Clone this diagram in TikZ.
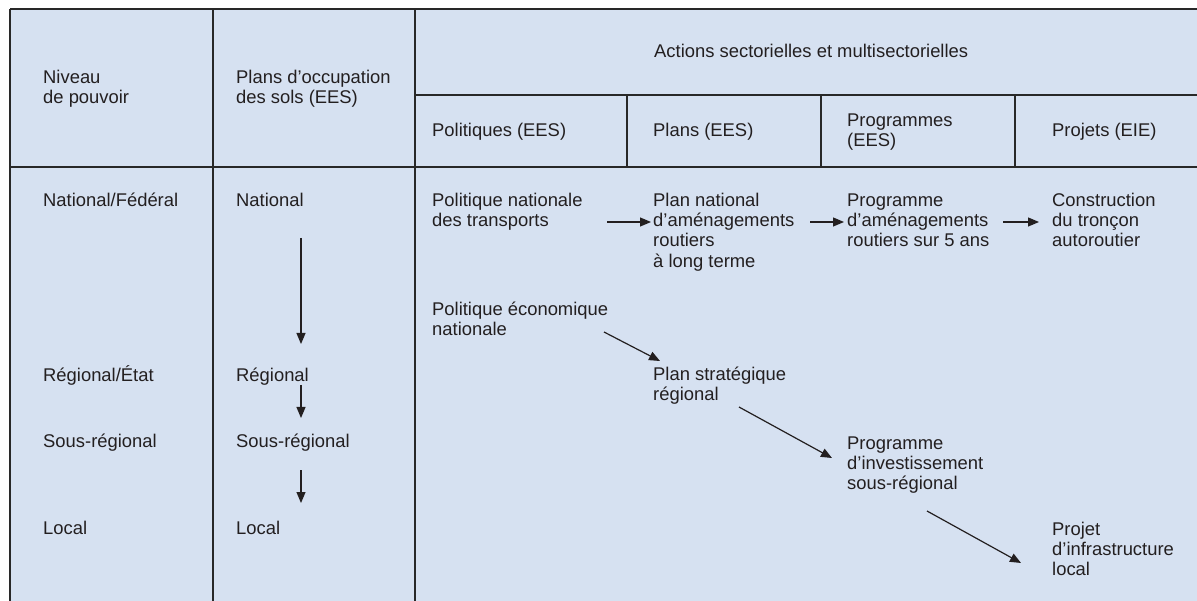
\documentclass[tikz,border=0pt]{standalone}
\usepackage{fontspec}
\setmainfont{Liberation Sans}
\usetikzlibrary{arrows.meta}
\definecolor{cellfill}{RGB}{214,225,241}
\definecolor{ink}{RGB}{35,31,32}
\definecolor{rule}{RGB}{40,40,40}
\newcommand\tstrut{\rule{0pt}{18pt}}
\tikzset{
  txt/.style={anchor=north west, inner sep=0pt, align=left, text=ink,
    font=\fontsize{18.4}{20.3}\selectfont},
  grid/.style={draw=rule, line width=1.4pt},
  arr/.style={draw=ink, line width=1.2pt, -{Triangle[length=11pt,width=9pt]}}
}
\begin{document}
\begin{tikzpicture}[x=1pt,y=-1pt]
\useasboundingbox (0,0) rectangle (1197,601);
% table background
\fill[cellfill] (10,9) rectangle (1197,601);
% table rules
\draw[draw=rule, line width=2pt] (10,9) -- (1197,9);
\draw[grid] (10,9) -- (10,601);
\draw[grid] (213,9) -- (213,601);
\draw[grid] (415,9) -- (415,601);
\draw[grid] (415,95) -- (1197,95);
\draw[grid] (10,167) -- (1197,167);
\draw[grid] (627,95) -- (627,167);
\draw[grid] (821,95) -- (821,167);
\draw[grid] (1015,95) -- (1015,167);
% header texts (position = baseline - 18)
\node[txt] (niv) at (43,65) {\tstrut Niveau\\de pouvoir};
\node[txt] (pos) at (236,65) {\tstrut Plans d’occupation\\des sols (EES)};
\node[txt] (act) at (654,39) {\tstrut Actions sectorielles et multisectorielles};
\node[txt] (hpol) at (432,118) {\tstrut Politiques (EES)};
\node[txt] (hpla) at (653,118) {\tstrut Plans (EES)};
\node[txt] (hprg) at (847,108) {\tstrut Programmes\\(EES)};
\node[txt] (hprj) at (1052,118) {\tstrut Projets (EIE)};
% level column
\node[txt] (lnat) at (43,188) {\tstrut National/Fédéral};
\node[txt] (lreg) at (43,363) {\tstrut Régional/État};
\node[txt] (lsreg) at (43,429) {\tstrut Sous-régional};
\node[txt] (lloc) at (43,516) {\tstrut Local};
% land use plans column
\node[txt] (pnat) at (236,188) {\tstrut National};
\node[txt] (preg) at (236,363) {\tstrut Régional};
\node[txt] (psreg) at (236,429) {\tstrut Sous-régional};
\node[txt] (ploc) at (236,516) {\tstrut Local};
% sectoral actions
\node[txt] (pntr) at (432,188) {\tstrut Politique nationale\\des transports};
\node[txt] (pnar) at (653,188) {\tstrut Plan national\\d’aménagements\\routiers\\à long terme};
\node[txt] (pgar) at (847,188) {\tstrut Programme\\d’aménagements\\routiers sur 5 ans};
\node[txt] (ctra) at (1052,188) {\tstrut Construction\\du tronçon\\autoroutier};
\node[txt] (pecn) at (432,297) {\tstrut Politique économique\\nationale};
\node[txt] (pstr) at (653,362) {\tstrut Plan stratégique\\régional};
\node[txt] (pinv) at (847,431) {\tstrut Programme\\d’investissement\\sous-régional};
\node[txt] (pinf) at (1052,517) {\tstrut Projet\\d’infrastructure\\local};
% connector end points
\coordinate (v1s) at (301,238); \coordinate (v1e) at (301,344);
\coordinate (v2s) at (301,385); \coordinate (v2e) at (301,418);
\coordinate (v3s) at (301,470); \coordinate (v3e) at (301,503);
\coordinate (h1s) at (607,222); \coordinate (h1e) at (651,222);
\coordinate (h2s) at (810,222); \coordinate (h2e) at (844,222);
\coordinate (h3s) at (1003,222); \coordinate (h3e) at (1039,222);
\coordinate (d1s) at (604,332); \coordinate (d1e) at (660,361);
\coordinate (d2s) at (739,407); \coordinate (d2e) at (832,458);
\coordinate (d3s) at (927,511); \coordinate (d3e) at (1021,563);
% arrows
\draw[arr] (v1s) -- (v1e);
\draw[arr] (v2s) -- (v2e);
\draw[arr] (v3s) -- (v3e);
\draw[arr] (h1s) -- (h1e);
\draw[arr] (h2s) -- (h2e);
\draw[arr] (h3s) -- (h3e);
\draw[arr] (d1s) -- (d1e);
\draw[arr] (d2s) -- (d2e);
\draw[arr] (d3s) -- (d3e);
\end{tikzpicture}
\end{document}
